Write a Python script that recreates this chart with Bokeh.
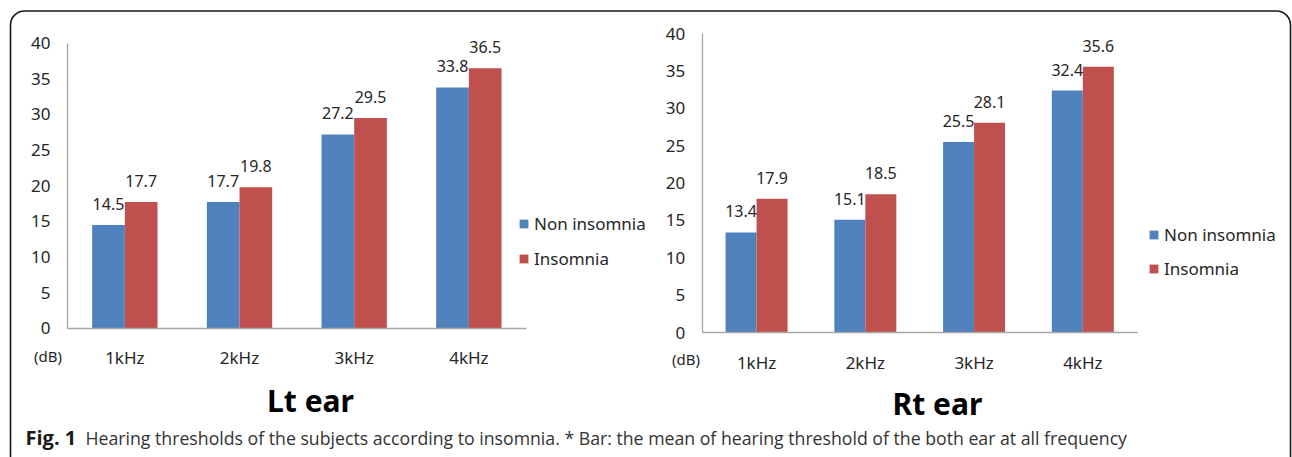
from bokeh.plotting import figure
from bokeh.models import (ColumnDataSource, Range1d, FixedTicker, Label, LinearAxis,
                          Legend, LegendItem, BoxAnnotation)
from bokeh.transform import dodge
from bokeh.core.properties import value
from bokeh.embed import file_html
from bokeh.resources import INLINE

# ---------------- data ----------------
freqs = ["1kHz", "2kHz", "3kHz", "4kHz"]
series_names = ["Non insomnia", "Insomnia"]
lt_non = [14.5, 17.7, 27.2, 33.8]
lt_ins = [17.7, 19.8, 29.5, 36.5]
rt_non = [13.4, 15.1, 25.5, 32.4]
rt_ins = [17.9, 18.5, 28.1, 35.6]
y_ticks = [0, 5, 10, 15, 20, 25, 30, 35, 40]
panel_titles = ["Lt ear", "Rt ear"]
unit_label = "(dB)"
caption_bold = "Fig. 1"
caption_text = ("Hearing thresholds of the subjects according to insomnia. * Bar: the mean of "
                "hearing threshold of the both ear at all frequency")

# ---------------- style ----------------
W, H = 1292, 457
BLUE = "#4F81BD"
RED = "#C0504D"
AXIS = "#A6A6A6"
TXT = "#262626"
FONT = "Noto Sans"
BORDER = "#1a1a1a"
BAR_W = 0.285
Y_MIN, Y_MAX = 0, 40


def lin_range(p0, p1, v0, v1, total, flip=False):
    """Range so that value v0 sits at pixel p0 and v1 at pixel p1 on a frame of `total` px."""
    k = (v1 - v0) / (p1 - p0)
    if not flip:  # x: pixel 0 -> start
        return Range1d(v0 - p0 * k, v0 + (total - p0) * k)
    # y: pixels grow downward; start is at bottom (pixel total)
    return Range1d(v0 - (total - p0) * (-k), v0 + p0 * (-k))


p = figure(width=W, height=H, output_backend="svg", toolbar_location=None,
           x_axis_location=None, y_axis_location=None, min_border=0,
           x_range=Range1d(0, W), y_range=Range1d(H, 0))
p.outline_line_color = None
p.grid.visible = False
p.background_fill_color = "white"
p.border_fill_color = "white"

x_pos = [i + 0.5 for i in range(len(freqs))]

panels = [
    # name, non, ins, title, axis px: x0, x1, y(0), y(40), dB center, title center, legend loc, spacing
    ("L", lt_non, lt_ins, panel_titles[0], 67, 525.7, 327.7, 42.7, (47.5, 355), (310, 400), (518, 186.5), 11),
    ("R", rt_non, rt_ins, panel_titles[1], 701.7, 1136.7, 332, 33.3, (685.5, 358), (937, 403), (1148, 176.5), 10),
]

for name, non, ins, title, x0, x1, y0, y1, dB_xy, t_xy, leg_loc, leg_sp in panels:
    xr, yr = "x" + name, "y" + name
    p.extra_x_ranges[xr] = lin_range(x0, x1, 0, len(freqs), W)
    p.extra_y_ranges[yr] = lin_range(y0, y1, Y_MIN, Y_MAX, H, flip=True)

    src = ColumnDataSource(dict(
        x=x_pos, freq=freqs, non=non, ins=ins,
        non_lbl=[f"{v:.1f}" for v in non], ins_lbl=[f"{v:.1f}" for v in ins]))

    r1 = p.vbar(x=dodge("x", -BAR_W / 2), top="non", width=BAR_W, source=src,
                fill_color=BLUE, line_color=None, x_range_name=xr, y_range_name=yr)
    r2 = p.vbar(x=dodge("x", BAR_W / 2), top="ins", width=BAR_W, source=src,
                fill_color=RED, line_color=None, x_range_name=xr, y_range_name=yr)
    for col, off in (("non", -BAR_W / 2), ("ins", BAR_W / 2)):
        p.text(x=dodge("x", off), y=col, text=col + "_lbl", source=src,
               x_range_name=xr, y_range_name=yr,
               text_align="center", text_baseline="bottom", y_offset=-15,
               text_font=value(FONT), text_font_size="16px", text_color=TXT)

    yax = LinearAxis(x_range_name=xr, y_range_name=yr, fixed_location=0, bounds=(Y_MIN, Y_MAX),
                     ticker=FixedTicker(ticks=y_ticks), major_label_standoff=17)
    xax = LinearAxis(x_range_name=xr, y_range_name=yr, fixed_location=0, bounds=(0, len(freqs)),
                     ticker=FixedTicker(ticks=x_pos),
                     major_label_overrides={xp: f for xp, f in zip(x_pos, freqs)},
                     major_label_standoff=18)
    for ax in (xax, yax):
        ax.axis_line_color = AXIS
        ax.axis_line_width = 1.3
        ax.major_tick_line_color = None
        ax.minor_tick_line_color = None
        ax.major_tick_out = 0
        ax.major_tick_in = 0
        ax.major_label_text_font = FONT
        ax.major_label_text_font_size = "17px"
        ax.major_label_text_color = TXT
    p.add_layout(yax, "left")
    p.add_layout(xax, "below")

    p.add_layout(Label(x=dB_xy[0], y=dB_xy[1], text=unit_label,
                       text_align="center", text_baseline="middle", text_font=FONT,
                       text_font_size="15px", text_color=TXT))
    p.add_layout(Label(x=t_xy[0], y=t_xy[1], text=title,
                       text_align="center", text_baseline="middle", text_font=FONT,
                       text_font_size="30px", text_font_style="bold", text_color="black"))

    leg = Legend(items=[LegendItem(label=series_names[0], renderers=[r1]),
                        LegendItem(label=series_names[1], renderers=[r2])],
                 location=leg_loc, padding=0, margin=0, spacing=leg_sp,
                 glyph_width=11, glyph_height=11, label_height=24, label_standoff=5,
                 label_text_font=FONT, label_text_font_size="17px", label_text_color=TXT,
                 border_line_color=None, background_fill_alpha=0)
    p.add_layout(leg)

# outer rounded frame (open at the bottom of the picture)
p.add_layout(BoxAnnotation(left=10, right=1290, top=10.5, bottom=H + 40, fill_alpha=0,
                           line_color=BORDER, line_alpha=1.0, line_width=1.6, border_radius=14))

# caption
p.add_layout(Label(x=25, y=437, text=caption_bold, text_font="Open Sans", text_font_size="20px",
                   text_font_style="bold", text_color="#1a1a1a", text_baseline="middle"))
p.add_layout(Label(x=85, y=437, text=caption_text, text_font="Open Sans", text_font_size="17.7px",
                   text_color="#333333", text_baseline="middle"))

open("out.html", "w").write(file_html(p, INLINE))
